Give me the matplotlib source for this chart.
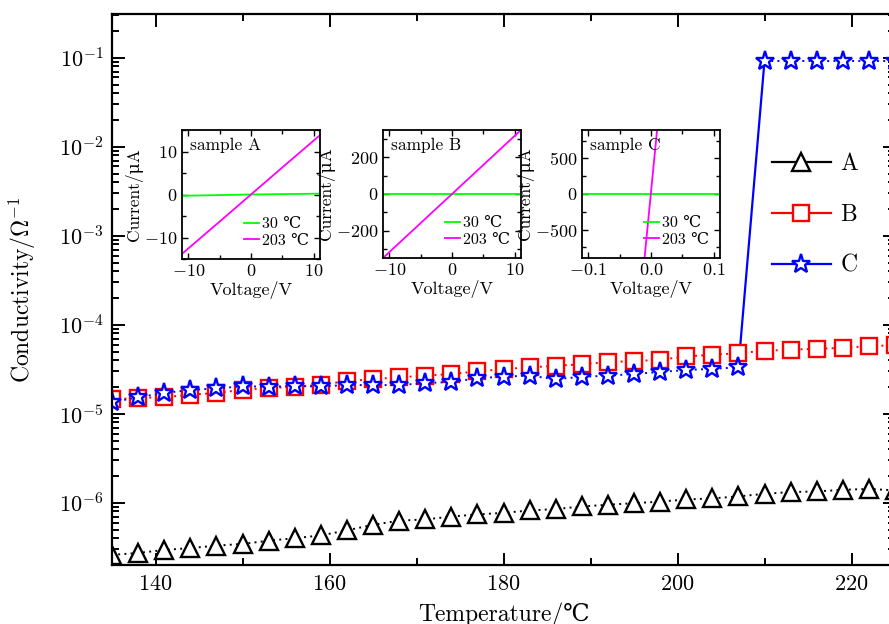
import numpy as np
import matplotlib
matplotlib.use("Agg")
import matplotlib.pyplot as plt
from matplotlib.lines import Line2D
from matplotlib.ticker import MultipleLocator, LogLocator, NullFormatter

plt.rcParams['font.family'] = ['cmr10', 'DejaVu Serif']
plt.rcParams['mathtext.fontset'] = 'cm'
plt.rcParams['axes.formatter.use_mathtext'] = True
plt.rcParams['axes.unicode_minus'] = True

# ---------------- data ----------------
temperature = [135, 138, 141, 144, 147, 150, 153, 156, 159, 162, 165, 168, 171, 174, 177,
               180, 183, 186, 189, 192, 195, 198, 201, 204, 207, 210, 213, 216, 219, 222, 225]
cond_A = [2.6e-7, 2.73e-7, 2.95e-7, 3.1e-7, 3.3e-7, 3.45e-7, 3.75e-7, 4.0e-7, 4.3e-7, 4.9e-7,
          5.65e-7, 6.3e-7, 6.5e-7, 7.0e-7, 7.4e-7, 7.7e-7, 8.2e-7, 8.5e-7, 9.1e-7, 9.5e-7,
          9.9e-7, 1.03e-6, 1.09e-6, 1.12e-6, 1.18e-6, 1.26e-6, 1.32e-6, 1.34e-6, 1.40e-6,
          1.43e-6, 1.38e-6]
cond_B = [1.45e-5, 1.51e-5, 1.53e-5, 1.64e-5, 1.71e-5, 1.86e-5, 1.94e-5, 2.02e-5, 2.12e-5,
          2.33e-5, 2.45e-5, 2.57e-5, 2.68e-5, 2.8e-5, 2.99e-5, 3.18e-5, 3.32e-5, 3.46e-5,
          3.6e-5, 3.81e-5, 3.91e-5, 4.04e-5, 4.41e-5, 4.6e-5, 4.8e-5, 5.1e-5, 5.25e-5,
          5.37e-5, 5.5e-5, 5.75e-5, 5.9e-5]
cond_C = [1.35e-5, 1.53e-5, 1.71e-5, 1.85e-5, 1.93e-5, 2.03e-5, 2.02e-5, 2.04e-5, 2.03e-5,
          2.1e-5, 2.1e-5, 2.1e-5, 2.21e-5, 2.28e-5, 2.5e-5, 2.62e-5, 2.68e-5, 2.45e-5,
          2.6e-5, 2.68e-5, 2.8e-5, 2.95e-5, 3.1e-5, 3.2e-5, 3.32e-5, 0.092, 0.092, 0.092,
          0.092, 0.092, 0.092]
jump_index = 25  # first point after the jump of sample C

# inset I-V data (voltage in V, current in uA)
ivA_V_hot = [-11, -5, 0, 5, 11]
ivA_I_hot = [-13.8, -6.3, 0, 6.3, 13.8]
ivA_V_cold = [-11, 0, 11]
ivA_I_cold = [-0.3, 0.0, 0.2]

ivB_V_hot = [-11, 0, 11]
ivB_I_hot = [-350, 0, 350]
ivB_V_cold = [-11, 0, 11]
ivB_I_cold = [0, 0, 0]

ivC_V_hot = [-0.0103, 0.0097]
ivC_I_hot = [-900, 900]
ivC_V_cold = [-0.11, 0.11]
ivC_I_cold = [0, 0]

legend_main = ['A', 'B', 'C']
legend_inset = ['30 ℃', '203 ℃']

# ---------------- figure ----------------
W, H = 889, 624
fig = plt.figure(figsize=(W / 100, H / 100), dpi=100)

def px(l, t, r, b):
    return [l / W, 1 - b / H, (r - l) / W, (b - t) / H]

ax = fig.add_axes(px(112, 14, 895, 565))

dot = (0, (1, 2.2))
ms_kw = dict(markeredgewidth=1.7, markerfacecolor='white')
ax.plot(temperature, cond_A, color='black', linestyle=dot, lw=1.4, marker='^', markersize=12.5, **ms_kw)
ax.plot(temperature, cond_B, color='red', linestyle=dot, lw=1.4, marker='s', markersize=11, **ms_kw)
ax.plot(temperature[jump_index - 1:jump_index + 1], cond_C[jump_index - 1:jump_index + 1],
        color='blue', lw=1.6, linestyle='-', zorder=1)
ax.plot(temperature[:jump_index], cond_C[:jump_index], color='blue', linestyle=dot, lw=1.4,
        marker='*', markersize=14, **ms_kw)
ax.plot(temperature[jump_index:], cond_C[jump_index:], color='blue', linestyle=dot, lw=1.4,
        marker='*', markersize=14, **ms_kw)

ax.set_yscale('log')
ax.set_xlim(135, 225)
ax.set_ylim(2e-7, 0.31)
ax.xaxis.set_major_locator(MultipleLocator(20))
ax.xaxis.set_minor_locator(MultipleLocator(10))
ax.yaxis.set_major_locator(LogLocator(base=10, numticks=20))
ax.yaxis.set_minor_locator(LogLocator(base=10, subs=np.arange(2, 10), numticks=20))
ax.yaxis.set_minor_formatter(NullFormatter())
ax.tick_params(which='both', direction='in', top=True, right=True, labelsize=16, width=1.4)
ax.tick_params(which='major', length=9)
ax.tick_params(which='minor', length=5)
ax.tick_params(axis='x', pad=7)
ax.tick_params(axis='y', pad=6)
for s in ax.spines.values():
    s.set_linewidth(1.6)
ax.set_xlabel('Temperature/℃', fontsize=17, labelpad=6)
ax.set_ylabel(r'Conductivity/$\mathit{\Omega}^{-1}$', fontsize=17, labelpad=15)

handles = [
    Line2D([], [], color='black', lw=1.6, marker='^', markersize=12.5, markeredgewidth=1.7, markerfacecolor='white'),
    Line2D([], [], color='red', lw=1.6, marker='s', markersize=11, markeredgewidth=1.7, markerfacecolor='white'),
    Line2D([], [], color='blue', lw=1.6, marker='*', markersize=14, markeredgewidth=1.7, markerfacecolor='white'),
]
fig.legend(handles, legend_main, loc='upper left', bbox_to_anchor=(760 / W, 1 - 141 / H),
           frameon=False, fontsize=17, handlelength=2.5, handletextpad=0.4, labelspacing=1.22,
           borderpad=0)

# ---------------- insets ----------------
insets = [
    (px(182, 130, 320, 259), ivA_V_cold, ivA_I_cold, ivA_V_hot, ivA_I_hot, (-11, 11), (-15, 15),
     10, 5, 10, 5, 'sample A'),
    (px(383, 130, 521, 258), ivB_V_cold, ivB_I_cold, ivB_V_hot, ivB_I_hot, (-11, 11), (-350, 350),
     10, 5, 200, 100, 'sample B'),
    (px(582, 130, 720, 258), ivC_V_cold, ivC_I_cold, ivC_V_hot, ivC_I_hot, (-0.11, 0.11), (-900, 900),
     0.1, 0.05, 500, 250, 'sample C'),
]
for pos, vc, ic, vh, ih, xl, yl, xmaj, xmin, ymaj, ymin, name in insets:
    ia = fig.add_axes(pos)
    ia.plot(vc, ic, color='#00ff00', lw=1.3)
    ia.plot(vh, ih, color='#ff00ff', lw=1.3)
    ia.set_xlim(*xl)
    ia.set_ylim(*yl)
    ia.xaxis.set_major_locator(MultipleLocator(xmaj))
    ia.xaxis.set_minor_locator(MultipleLocator(xmin))
    ia.yaxis.set_major_locator(MultipleLocator(ymaj))
    ia.yaxis.set_minor_locator(MultipleLocator(ymin))
    ia.tick_params(which='both', direction='in', top=True, right=True, labelsize=13, width=1.0)
    ia.tick_params(which='major', length=4)
    ia.tick_params(which='minor', length=3)
    ia.tick_params(axis='x', pad=3)
    ia.tick_params(axis='y', pad=3)
    for s in ia.spines.values():
        s.set_linewidth(1.3)
    ia.set_xlabel('Voltage/V', fontsize=13, labelpad=1)
    ia.set_ylabel('Current/μA', fontsize=12.5, labelpad=1)
    ia.text(0.06, 0.88, name, transform=ia.transAxes, fontsize=12.5, va='center', ha='left')
    ia.legend(legend_inset, loc='lower right', frameon=False, fontsize=11.5, handlelength=0.9,
              handletextpad=0.2, labelspacing=0.15, borderpad=0.2, borderaxespad=0.5)

fig.savefig('out.png', dpi=100)
